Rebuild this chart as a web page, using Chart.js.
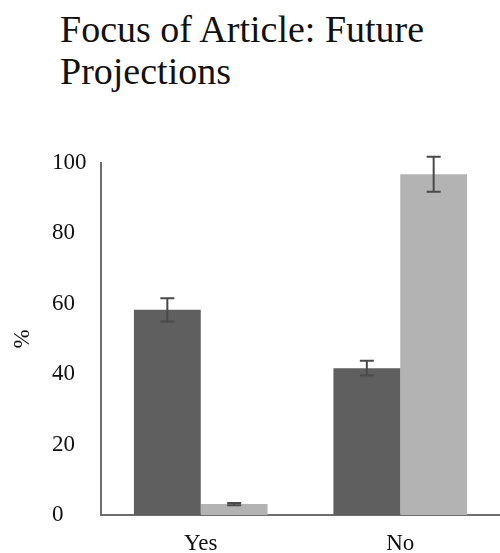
<!DOCTYPE html>
<html>
<head>
<meta charset="utf-8">
<script src="https://cdn.jsdelivr.net/npm/chart.js@4.4.1/dist/chart.umd.min.js"></script>
<style>
  html, body { margin: 0; padding: 0; background: #fff; }
  #wrap { position: relative; width: 500px; height: 553px; }
  #title {
    position: absolute; left: 60px; top: 8px;
    font-family: "Liberation Serif", "Times New Roman", serif;
    font-size: 38px; line-height: 42px; color: #111;
  }
  canvas { position: absolute; left: 0; top: 0; }
</style>
</head>
<body>
<div id="wrap">
  <div id="title">Focus of Article: Future<br>Projections</div>
  <canvas id="c" width="500" height="553"></canvas>
</div>
<script>
// Categories and per-group percentages with their error margins
const categories = ["Yes", "No"];
const groupAValues = [58.3, 41.7];
const groupAErrors = [3.3, 2.1];
const groupBValues = [3.1, 96.8];
const groupBErrors = [0.3, 5.0];
const yTicks = [0, 20, 40, 60, 80, 100];

const serif = "'Liberation Serif', 'Times New Roman', serif";

// Draws symmetric error bars centred on each bar's value
const errorBars = {
  id: 'errorBars',
  afterDatasetsDraw(chart) {
    const ctx = chart.ctx;
    const y = chart.scales.y;
    ctx.save();
    ctx.strokeStyle = '#4a4a4a';
    ctx.lineWidth = 2;
    chart.data.datasets.forEach((ds, di) => {
      const meta = chart.getDatasetMeta(di);
      meta.data.forEach((bar, i) => {
        const v = ds.data[i], e = ds.errors[i];
        const top = y.getPixelForValue(v + e);
        const bot = y.getPixelForValue(v - e);
        const half = 7;
        ctx.beginPath();
        ctx.moveTo(bar.x, top); ctx.lineTo(bar.x, bot);
        ctx.moveTo(bar.x - half, top); ctx.lineTo(bar.x + half, top);
        ctx.moveTo(bar.x - half, bot); ctx.lineTo(bar.x + half, bot);
        ctx.stroke();
      });
    });
    ctx.restore();
  }
};

new Chart(document.getElementById('c'), {
  type: 'bar',
  data: {
    labels: categories,
    datasets: [
      { label: 'Group A', data: groupAValues, errors: groupAErrors, backgroundColor: '#5f5f5f' },
      { label: 'Group B', data: groupBValues, errors: groupBErrors, backgroundColor: '#b3b3b3' }
    ]
  },
  options: {
    responsive: false,
    animation: false,
    layout: { padding: { top: 163, left: 52, right: 0, bottom: 0 } },
    datasets: { bar: { categoryPercentage: 0.67, barPercentage: 1.0, borderWidth: 0 } },
    plugins: { legend: { display: false }, tooltip: { enabled: false }, title: { display: false } },
    scales: {
      x: {
        grid: { display: false, drawTicks: false, tickLength: 0 },
        border: { display: true, color: '#6e6e6e', width: 2 },
        ticks: { color: '#111', font: { family: serif, size: 23 }, padding: 15 },
        afterFit(s) { s.height = 38; }
      },
      y: {
        min: 0, max: 100,
        afterBuildTicks(s) { s.ticks = yTicks.map(v => ({ value: v })); },
        grid: { display: false, drawTicks: false, tickLength: 0 },
        border: { display: true, color: '#6e6e6e', width: 2 },
        ticks: { color: '#111', font: { family: serif, size: 23 }, crossAlign: 'far', padding: 0 },
        title: { display: true, text: '%', color: '#111', font: { family: serif, size: 23 }, padding: { top: -43, bottom: 0 } },
        afterFit(s) { s.width = 49; }
      }
    }
  },
  plugins: [errorBars]
});
</script>
</body>
</html>
